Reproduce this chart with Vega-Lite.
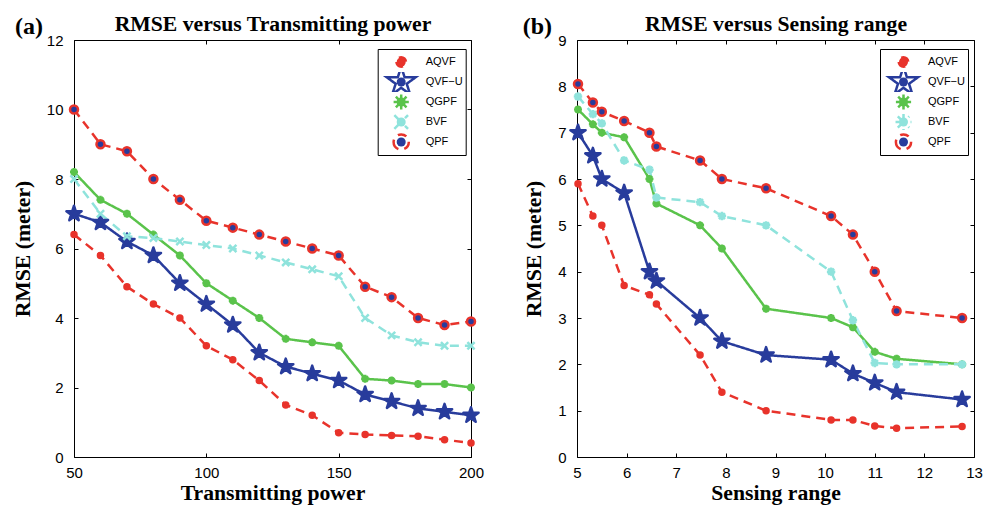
{
  "$schema": "https://vega.github.io/schema/vega-lite/v6.json",
  "padding": {"left": 12, "top": 13, "right": 5, "bottom": 5},
  "background": "white",
  "datasets": {
    "a": [
      {"series": "AQVF", "power": 50, "rmse": 6.4}, {"series": "AQVF", "power": 60, "rmse": 5.8}, {"series": "AQVF", "power": 70, "rmse": 4.9}, {"series": "AQVF", "power": 80, "rmse": 4.4}, {"series": "AQVF", "power": 90, "rmse": 4.0}, {"series": "AQVF", "power": 100, "rmse": 3.2}, {"series": "AQVF", "power": 110, "rmse": 2.8}, {"series": "AQVF", "power": 120, "rmse": 2.2}, {"series": "AQVF", "power": 130, "rmse": 1.5}, {"series": "AQVF", "power": 140, "rmse": 1.2}, {"series": "AQVF", "power": 150, "rmse": 0.7}, {"series": "AQVF", "power": 160, "rmse": 0.65}, {"series": "AQVF", "power": 170, "rmse": 0.62}, {"series": "AQVF", "power": 180, "rmse": 0.6}, {"series": "AQVF", "power": 190, "rmse": 0.5}, {"series": "AQVF", "power": 200, "rmse": 0.4},
      {"series": "QVF−U", "power": 50, "rmse": 7.0}, {"series": "QVF−U", "power": 60, "rmse": 6.75}, {"series": "QVF−U", "power": 70, "rmse": 6.2}, {"series": "QVF−U", "power": 80, "rmse": 5.8}, {"series": "QVF−U", "power": 90, "rmse": 5.0}, {"series": "QVF−U", "power": 100, "rmse": 4.4}, {"series": "QVF−U", "power": 110, "rmse": 3.8}, {"series": "QVF−U", "power": 120, "rmse": 3.0}, {"series": "QVF−U", "power": 130, "rmse": 2.6}, {"series": "QVF−U", "power": 140, "rmse": 2.4}, {"series": "QVF−U", "power": 150, "rmse": 2.2}, {"series": "QVF−U", "power": 160, "rmse": 1.8}, {"series": "QVF−U", "power": 170, "rmse": 1.6}, {"series": "QVF−U", "power": 180, "rmse": 1.4}, {"series": "QVF−U", "power": 190, "rmse": 1.3}, {"series": "QVF−U", "power": 200, "rmse": 1.2},
      {"series": "QGPF", "power": 50, "rmse": 8.2}, {"series": "QGPF", "power": 60, "rmse": 7.4}, {"series": "QGPF", "power": 70, "rmse": 7.0}, {"series": "QGPF", "power": 80, "rmse": 6.4}, {"series": "QGPF", "power": 90, "rmse": 5.8}, {"series": "QGPF", "power": 100, "rmse": 5.0}, {"series": "QGPF", "power": 110, "rmse": 4.5}, {"series": "QGPF", "power": 120, "rmse": 4.0}, {"series": "QGPF", "power": 130, "rmse": 3.4}, {"series": "QGPF", "power": 140, "rmse": 3.3}, {"series": "QGPF", "power": 150, "rmse": 3.2}, {"series": "QGPF", "power": 160, "rmse": 2.25}, {"series": "QGPF", "power": 170, "rmse": 2.2}, {"series": "QGPF", "power": 180, "rmse": 2.1}, {"series": "QGPF", "power": 190, "rmse": 2.1}, {"series": "QGPF", "power": 200, "rmse": 2.0},
      {"series": "BVF", "power": 50, "rmse": 8.0}, {"series": "BVF", "power": 60, "rmse": 7.0}, {"series": "BVF", "power": 70, "rmse": 6.35}, {"series": "BVF", "power": 80, "rmse": 6.3}, {"series": "BVF", "power": 90, "rmse": 6.2}, {"series": "BVF", "power": 100, "rmse": 6.1}, {"series": "BVF", "power": 110, "rmse": 6.0}, {"series": "BVF", "power": 120, "rmse": 5.8}, {"series": "BVF", "power": 130, "rmse": 5.6}, {"series": "BVF", "power": 140, "rmse": 5.4}, {"series": "BVF", "power": 150, "rmse": 5.2}, {"series": "BVF", "power": 160, "rmse": 4.0}, {"series": "BVF", "power": 170, "rmse": 3.5}, {"series": "BVF", "power": 180, "rmse": 3.3}, {"series": "BVF", "power": 190, "rmse": 3.2}, {"series": "BVF", "power": 200, "rmse": 3.2},
      {"series": "QPF", "power": 50, "rmse": 10.0}, {"series": "QPF", "power": 60, "rmse": 9.0}, {"series": "QPF", "power": 70, "rmse": 8.8}, {"series": "QPF", "power": 80, "rmse": 8.0}, {"series": "QPF", "power": 90, "rmse": 7.4}, {"series": "QPF", "power": 100, "rmse": 6.8}, {"series": "QPF", "power": 110, "rmse": 6.6}, {"series": "QPF", "power": 120, "rmse": 6.4}, {"series": "QPF", "power": 130, "rmse": 6.2}, {"series": "QPF", "power": 140, "rmse": 6.0}, {"series": "QPF", "power": 150, "rmse": 5.8}, {"series": "QPF", "power": 160, "rmse": 4.9}, {"series": "QPF", "power": 170, "rmse": 4.6}, {"series": "QPF", "power": 180, "rmse": 4.0}, {"series": "QPF", "power": 190, "rmse": 3.8}, {"series": "QPF", "power": 200, "rmse": 3.9}
    ],
    "b": [
      {"series": "AQVF", "range": 5.02, "rmse": 5.9}, {"series": "AQVF", "range": 5.32, "rmse": 5.2}, {"series": "AQVF", "range": 5.5, "rmse": 5.0}, {"series": "AQVF", "range": 5.95, "rmse": 3.7}, {"series": "AQVF", "range": 6.46, "rmse": 3.5}, {"series": "AQVF", "range": 6.6, "rmse": 3.3}, {"series": "AQVF", "range": 7.48, "rmse": 2.2}, {"series": "AQVF", "range": 7.92, "rmse": 1.4}, {"series": "AQVF", "range": 8.81, "rmse": 1.0}, {"series": "AQVF", "range": 10.12, "rmse": 0.8}, {"series": "AQVF", "range": 10.56, "rmse": 0.8}, {"series": "AQVF", "range": 11.0, "rmse": 0.67}, {"series": "AQVF", "range": 11.44, "rmse": 0.62}, {"series": "AQVF", "range": 12.76, "rmse": 0.66},
      {"series": "QVF−U", "range": 5.02, "rmse": 7.0}, {"series": "QVF−U", "range": 5.32, "rmse": 6.5}, {"series": "QVF−U", "range": 5.5, "rmse": 6.0}, {"series": "QVF−U", "range": 5.95, "rmse": 5.7}, {"series": "QVF−U", "range": 6.46, "rmse": 4.0}, {"series": "QVF−U", "range": 6.6, "rmse": 3.8}, {"series": "QVF−U", "range": 7.48, "rmse": 3.0}, {"series": "QVF−U", "range": 7.92, "rmse": 2.5}, {"series": "QVF−U", "range": 8.81, "rmse": 2.2}, {"series": "QVF−U", "range": 10.12, "rmse": 2.1}, {"series": "QVF−U", "range": 10.56, "rmse": 1.8}, {"series": "QVF−U", "range": 11.0, "rmse": 1.6}, {"series": "QVF−U", "range": 11.44, "rmse": 1.4}, {"series": "QVF−U", "range": 12.76, "rmse": 1.24},
      {"series": "QGPF", "range": 5.02, "rmse": 7.5}, {"series": "QGPF", "range": 5.32, "rmse": 7.18}, {"series": "QGPF", "range": 5.5, "rmse": 7.0}, {"series": "QGPF", "range": 5.95, "rmse": 6.9}, {"series": "QGPF", "range": 6.46, "rmse": 6.0}, {"series": "QGPF", "range": 6.6, "rmse": 5.47}, {"series": "QGPF", "range": 7.48, "rmse": 5.0}, {"series": "QGPF", "range": 7.92, "rmse": 4.5}, {"series": "QGPF", "range": 8.81, "rmse": 3.2}, {"series": "QGPF", "range": 10.12, "rmse": 3.0}, {"series": "QGPF", "range": 10.56, "rmse": 2.8}, {"series": "QGPF", "range": 11.0, "rmse": 2.27}, {"series": "QGPF", "range": 11.44, "rmse": 2.12}, {"series": "QGPF", "range": 12.76, "rmse": 2.0},
      {"series": "BVF", "range": 5.02, "rmse": 7.78}, {"series": "BVF", "range": 5.32, "rmse": 7.4}, {"series": "BVF", "range": 5.5, "rmse": 7.2}, {"series": "BVF", "range": 5.95, "rmse": 6.4}, {"series": "BVF", "range": 6.46, "rmse": 6.2}, {"series": "BVF", "range": 6.6, "rmse": 5.6}, {"series": "BVF", "range": 7.48, "rmse": 5.5}, {"series": "BVF", "range": 7.92, "rmse": 5.2}, {"series": "BVF", "range": 8.81, "rmse": 5.0}, {"series": "BVF", "range": 10.12, "rmse": 4.0}, {"series": "BVF", "range": 10.56, "rmse": 2.95}, {"series": "BVF", "range": 11.0, "rmse": 2.03}, {"series": "BVF", "range": 11.44, "rmse": 2.0}, {"series": "BVF", "range": 12.76, "rmse": 2.0},
      {"series": "QPF", "range": 5.02, "rmse": 8.05}, {"series": "QPF", "range": 5.32, "rmse": 7.65}, {"series": "QPF", "range": 5.5, "rmse": 7.45}, {"series": "QPF", "range": 5.95, "rmse": 7.25}, {"series": "QPF", "range": 6.46, "rmse": 7.0}, {"series": "QPF", "range": 6.6, "rmse": 6.7}, {"series": "QPF", "range": 7.48, "rmse": 6.4}, {"series": "QPF", "range": 7.92, "rmse": 6.0}, {"series": "QPF", "range": 8.81, "rmse": 5.8}, {"series": "QPF", "range": 10.12, "rmse": 5.2}, {"series": "QPF", "range": 10.56, "rmse": 4.8}, {"series": "QPF", "range": 11.0, "rmse": 4.0}, {"series": "QPF", "range": 11.44, "rmse": 3.15}, {"series": "QPF", "range": 12.76, "rmse": 3.0}
    ]
  },
  "hconcat": [
    {
      "width": 397,
      "height": 417,
      "data": {"name": "a"},
      "layer": [
        {
          "mark": {"type": "line", "strokeWidth": 2.5, "clip": true},
          "encoding": {
            "x": {"field": "power", "type": "quantitative", "scale": {"domain": [50, 200], "nice": false, "zero": false},
                  "axis": {"orient": "bottom", "values": [50, 100, 150, 200], "title": "Transmitting power", "labelPadding": 12, "titlePadding": 2}},
            "y": {"field": "rmse", "type": "quantitative", "scale": {"domain": [0, 12], "nice": false, "zero": false},
                  "axis": {"orient": "left", "values": [0, 2, 4, 6, 8, 10, 12], "title": "RMSE (meter)", "labelPadding": 15, "titlePadding": 12}},
            "stroke": {"field": "series", "type": "nominal",
                       "scale": {"domain": ["AQVF", "QVF−U", "QGPF", "BVF", "QPF"], "range": ["#e8332b", "#283c9c", "#5ac34b", "#8fe3dc", "#e8332b"]},
                       "legend": {
                         "orient": "none", "legendX": 303.7, "legendY": 9, "title": null, "direction": "vertical",
                         "strokeColor": "black", "padding": 3, "cornerRadius": 0,
                         "symbolType": "stroke", "symbolSize": 1444, "symbolStrokeWidth": 2.5, "clipHeight": 20, "rowPadding": 0,
                         "labelFont": "Liberation Sans", "labelFontSize": 11, "labelColor": "black", "labelOffset": 4,
                         "encode": {"symbols": {"update": {
                           "strokeDash": {"signal": "(datum.value==='QGPF' || datum.value==='QVF−U') ? [1,0] : [9,25,4,100]"},
                           "strokeWidth": {"value": 2.5},
                           "opacity": {"value": 1}
                         }}}
                       }},
            "strokeDash": {"field": "series", "type": "nominal",
                           "scale": {"domain": ["AQVF", "QVF−U", "QGPF", "BVF", "QPF"], "range": [[9, 6], [1, 0], [1, 0], [9, 6], [9, 6]]},
                           "legend": {
                             "orient": "none", "legendX": 303.7, "legendY": 9, "title": null, "direction": "vertical",
                             "strokeColor": "black", "padding": 3, "cornerRadius": 0,
                             "symbolType": "stroke", "symbolSize": 1444, "symbolStrokeWidth": 2.5, "clipHeight": 20, "rowPadding": 0,
                             "labelFont": "Liberation Sans", "labelFontSize": 11, "labelColor": "black", "labelOffset": 4,
                             "encode": {"symbols": {"update": {
                               "strokeDash": {"signal": "(datum.value==='QGPF' || datum.value==='QVF−U') ? [1,0] : [9,25,4,100]"},
                               "strokeWidth": {"value": 2.5},
                               "opacity": {"value": 1}
                             }}}
                           }}
          }
        },
        {
          "mark": {"type": "point", "filled": true, "opacity": 1, "size": 400, "strokeWidth": 2.5, "strokeJoin": "round"},
          "encoding": {
            "x": {"field": "power", "type": "quantitative",
                  "axis": {"orient": "top", "values": [50, 100, 150, 200], "labels": false, "title": "RMSE versus Transmitting power", "titlePadding": 4.5}},
            "y": {"field": "rmse", "type": "quantitative",
                  "axis": {"orient": "right", "values": [0, 2, 4, 6, 8, 10, 12], "labels": false, "title": null}},
            "shape": {"field": "series", "type": "nominal", "legend": null,
                      "scale": {"domain": ["AQVF", "QVF−U", "QGPF", "BVF", "QPF"], "range": [
                        "M-0.25,0A0.25,0.25 0 1,0 0.25,0A0.25,0.25 0 1,0 -0.25,0Z",
                        "M0,-0.8L0.18,-0.247L0.761,-0.247L0.29,0.094L0.47,0.647L0,0.306L-0.47,0.647L-0.29,0.094L-0.761,-0.247L-0.18,-0.247Z",
                        "M-0.4,0L0.4,0M0,-0.4L0,0.4M-0.28,-0.28L0.28,0.28M-0.28,0.28L0.28,-0.28",
                        "M-0.36,-0.36L0.36,0.36M-0.36,0.36L0.36,-0.36",
                        "M-0.4,0A0.4,0.4 0 1,0 0.4,0A0.4,0.4 0 1,0 -0.4,0Z"]}},
            "stroke": {"field": "series", "type": "nominal", "legend": null,
                       "scale": {"domain": ["AQVF", "QVF−U", "QGPF", "BVF", "QPF"], "range": ["#e8332b", "#283c9c", "#5ac34b", "#8fe3dc", "#e8332b"]}},
            "color": {"field": "series", "type": "nominal", "sort": ["AQVF", "QVF−U", "QGPF", "BVF", "QPF"],
                      "scale": {"range": ["#e8332b", "#283c9c", "#5ac34b", "#8fe3dc", "#283c9c"]},
                      "legend": {
                        "orient": "none", "legendX": 303.7, "legendY": 9, "title": null, "direction": "vertical",
                        "padding": 3, "symbolSize": 81, "symbolOffset": 14.5, "clipHeight": 20, "rowPadding": 0,
                        "symbolStrokeWidth": 2.5, "labelExpr": "''", "labelFontSize": 11, "labelOffset": 4,
                        "encode": {"symbols": {"update": {
                          "shape": {"signal": "datum.value==='AQVF' ? 'M-0.25,0A0.25,0.25 0 1,0 0.25,0A0.25,0.25 0 1,0 -0.25,0Z' : datum.value==='QGPF' ? 'M-0.4,0L0.4,0M0,-0.4L0,0.4M-0.28,-0.28L0.28,0.28M-0.28,0.28L0.28,-0.28' : datum.value==='BVF' ? 'M-0.36,-0.36L0.36,0.36M-0.36,0.36L0.36,-0.36' : datum.value==='QPF' ? 'M-0.4,0A0.4,0.4 0 1,0 0.4,0A0.4,0.4 0 1,0 -0.4,0Z' : 'M0,-0.8L0.18,-0.247L0.761,-0.247L0.29,0.094L0.47,0.647L0,0.306L-0.47,0.647L-0.29,0.094L-0.761,-0.247L-0.18,-0.247Z'"},
                          "fill": {"signal": "datum.value==='AQVF' ? '#e8332b' : datum.value==='QGPF' ? '#5ac34b' : datum.value==='BVF' ? '#8fe3dc' : '#283c9c'"},
                          "stroke": {"signal": "datum.value==='AQVF' ? '#e8332b' : datum.value==='QGPF' ? '#5ac34b' : datum.value==='BVF' ? '#8fe3dc' : datum.value==='QPF' ? '#e8332b' : '#283c9c'"},
                          "strokeWidth": {"value": 2.5},
                          "strokeJoin": {"value": "round"},
                          "opacity": {"value": 1}
                        }}}
                      }}
          }
        },
        {
          "data": {"values": [{"label": "(a)"}]},
          "mark": {"type": "text", "font": "Liberation Serif", "fontSize": 24, "fontWeight": "bold", "align": "right", "baseline": "alphabetic", "dx": -31, "dy": -6, "color": "black"},
          "encoding": {
            "x": {"datum": 50, "type": "quantitative", "axis": null},
            "y": {"datum": 12, "type": "quantitative", "axis": null},
            "text": {"field": "label"}
          }
        }
      ],
      "resolve": {"axis": {"x": "independent", "y": "independent"}}
    },
    {
      "width": 397,
      "height": 417,
      "data": {"name": "b"},
      "layer": [
        {
          "mark": {"type": "line", "strokeWidth": 2.5, "clip": true},
          "encoding": {
            "x": {"field": "range", "type": "quantitative", "scale": {"domain": [5, 13], "nice": false, "zero": false},
                  "axis": {"orient": "bottom", "values": [5, 6, 7, 8, 9, 10, 11, 12, 13], "title": "Sensing range", "labelPadding": 12, "titlePadding": 2}},
            "y": {"field": "rmse", "type": "quantitative", "scale": {"domain": [0, 9], "nice": false, "zero": false},
                  "axis": {"orient": "left", "values": [0, 1, 2, 3, 4, 5, 6, 7, 8, 9], "title": "RMSE (meter)", "labelPadding": 15, "titlePadding": 12}},
            "stroke": {"field": "series", "type": "nominal",
                       "scale": {"domain": ["AQVF", "QVF−U", "QGPF", "BVF", "QPF"], "range": ["#e8332b", "#283c9c", "#5ac34b", "#8fe3dc", "#e8332b"]},
                       "legend": {
                         "orient": "none", "legendX": 303, "legendY": 9, "title": null, "direction": "vertical",
                         "strokeColor": "black", "padding": 3, "cornerRadius": 0,
                         "symbolType": "stroke", "symbolSize": 1444, "symbolStrokeWidth": 2.5, "clipHeight": 20, "rowPadding": 0,
                         "labelFont": "Liberation Sans", "labelFontSize": 11, "labelColor": "black", "labelOffset": 4,
                         "encode": {"symbols": {"update": {
                           "strokeDash": {"signal": "(datum.value==='QGPF' || datum.value==='QVF−U') ? [1,0] : [9,25,4,100]"},
                           "strokeWidth": {"value": 2.5},
                           "opacity": {"value": 1}
                         }}}
                       }},
            "strokeDash": {"field": "series", "type": "nominal",
                           "scale": {"domain": ["AQVF", "QVF−U", "QGPF", "BVF", "QPF"], "range": [[9, 6], [1, 0], [1, 0], [9, 6], [9, 6]]},
                           "legend": {
                             "orient": "none", "legendX": 303, "legendY": 9, "title": null, "direction": "vertical",
                             "strokeColor": "black", "padding": 3, "cornerRadius": 0,
                             "symbolType": "stroke", "symbolSize": 1444, "symbolStrokeWidth": 2.5, "clipHeight": 20, "rowPadding": 0,
                             "labelFont": "Liberation Sans", "labelFontSize": 11, "labelColor": "black", "labelOffset": 4,
                             "encode": {"symbols": {"update": {
                               "strokeDash": {"signal": "(datum.value==='QGPF' || datum.value==='QVF−U') ? [1,0] : [9,25,4,100]"},
                               "strokeWidth": {"value": 2.5},
                               "opacity": {"value": 1}
                             }}}
                           }}
          }
        },
        {
          "mark": {"type": "point", "filled": true, "opacity": 1, "size": 400, "strokeWidth": 2.5, "strokeJoin": "round"},
          "encoding": {
            "x": {"field": "range", "type": "quantitative",
                  "axis": {"orient": "top", "values": [5, 6, 7, 8, 9, 10, 11, 12, 13], "labels": false, "title": "RMSE versus Sensing range", "titlePadding": 4.5}},
            "y": {"field": "rmse", "type": "quantitative",
                  "axis": {"orient": "right", "values": [0, 1, 2, 3, 4, 5, 6, 7, 8, 9], "labels": false, "title": null}},
            "shape": {"field": "series", "type": "nominal", "legend": null,
                      "scale": {"domain": ["AQVF", "QVF−U", "QGPF", "BVF", "QPF"], "range": [
                        "M-0.25,0A0.25,0.25 0 1,0 0.25,0A0.25,0.25 0 1,0 -0.25,0Z",
                        "M0,-0.8L0.18,-0.247L0.761,-0.247L0.29,0.094L0.47,0.647L0,0.306L-0.47,0.647L-0.29,0.094L-0.761,-0.247L-0.18,-0.247Z",
                        "M-0.4,0L0.4,0M0,-0.4L0,0.4M-0.28,-0.28L0.28,0.28M-0.28,0.28L0.28,-0.28",
                        "M-0.42,0L0.42,0M0,-0.42L0,0.42M-0.3,-0.3L0.3,0.3M-0.3,0.3L0.3,-0.3",
                        "M-0.4,0A0.4,0.4 0 1,0 0.4,0A0.4,0.4 0 1,0 -0.4,0Z"]}},
            "stroke": {"field": "series", "type": "nominal", "legend": null,
                       "scale": {"domain": ["AQVF", "QVF−U", "QGPF", "BVF", "QPF"], "range": ["#e8332b", "#283c9c", "#5ac34b", "#8fe3dc", "#e8332b"]}},
            "color": {"field": "series", "type": "nominal", "sort": ["AQVF", "QVF−U", "QGPF", "BVF", "QPF"],
                      "scale": {"range": ["#e8332b", "#283c9c", "#5ac34b", "#8fe3dc", "#283c9c"]},
                      "legend": {
                        "orient": "none", "legendX": 303, "legendY": 9, "title": null, "direction": "vertical",
                        "padding": 3, "symbolSize": 81, "symbolOffset": 14.5, "clipHeight": 20, "rowPadding": 0,
                        "symbolStrokeWidth": 2.5, "labelExpr": "''", "labelFontSize": 11, "labelOffset": 4,
                        "encode": {"symbols": {"update": {
                          "shape": {"signal": "datum.value==='AQVF' ? 'M-0.25,0A0.25,0.25 0 1,0 0.25,0A0.25,0.25 0 1,0 -0.25,0Z' : datum.value==='QGPF' ? 'M-0.4,0L0.4,0M0,-0.4L0,0.4M-0.28,-0.28L0.28,0.28M-0.28,0.28L0.28,-0.28' : datum.value==='BVF' ? 'M-0.42,0L0.42,0M0,-0.42L0,0.42M-0.3,-0.3L0.3,0.3M-0.3,0.3L0.3,-0.3' : datum.value==='QPF' ? 'M-0.4,0A0.4,0.4 0 1,0 0.4,0A0.4,0.4 0 1,0 -0.4,0Z' : 'M0,-0.8L0.18,-0.247L0.761,-0.247L0.29,0.094L0.47,0.647L0,0.306L-0.47,0.647L-0.29,0.094L-0.761,-0.247L-0.18,-0.247Z'"},
                          "fill": {"signal": "datum.value==='AQVF' ? '#e8332b' : datum.value==='QGPF' ? '#5ac34b' : datum.value==='BVF' ? '#8fe3dc' : '#283c9c'"},
                          "stroke": {"signal": "datum.value==='AQVF' ? '#e8332b' : datum.value==='QGPF' ? '#5ac34b' : datum.value==='BVF' ? '#8fe3dc' : datum.value==='QPF' ? '#e8332b' : '#283c9c'"},
                          "strokeWidth": {"value": 2.5},
                          "strokeJoin": {"value": "round"},
                          "opacity": {"value": 1}
                        }}}
                      }}
          }
        },
        {
          "data": {"values": [{"label": "(b)"}]},
          "mark": {"type": "text", "font": "Liberation Serif", "fontSize": 24, "fontWeight": "bold", "align": "right", "baseline": "alphabetic", "dx": -25, "dy": -6, "color": "black"},
          "encoding": {
            "x": {"datum": 5, "type": "quantitative", "axis": null},
            "y": {"datum": 9, "type": "quantitative", "axis": null},
            "text": {"field": "label"}
          }
        }
      ],
      "resolve": {"axis": {"x": "independent", "y": "independent"}}
    }
  ],
  "spacing": 106,
  "bounds": "flush",
  "resolve": {"scale": {"color": "independent", "strokeDash": "independent", "shape": "independent", "stroke": "independent"}, "legend": {"color": "independent", "stroke": "independent", "strokeDash": "independent"}},
  "config": {
    "view": {"stroke": null},
    "axis": {
      "grid": false, "domainColor": "black", "domainWidth": 1, "tickColor": "black", "tickWidth": 1, "tickSize": -4,
      "labelFont": "Liberation Sans", "labelFontSize": 15, "labelColor": "black", "labelFlush": false, "labelOverlap": false,
      "titleFont": "Liberation Serif", "titleFontSize": 21.7, "titleFontWeight": "bold", "titleColor": "black"
    }
  }
}
